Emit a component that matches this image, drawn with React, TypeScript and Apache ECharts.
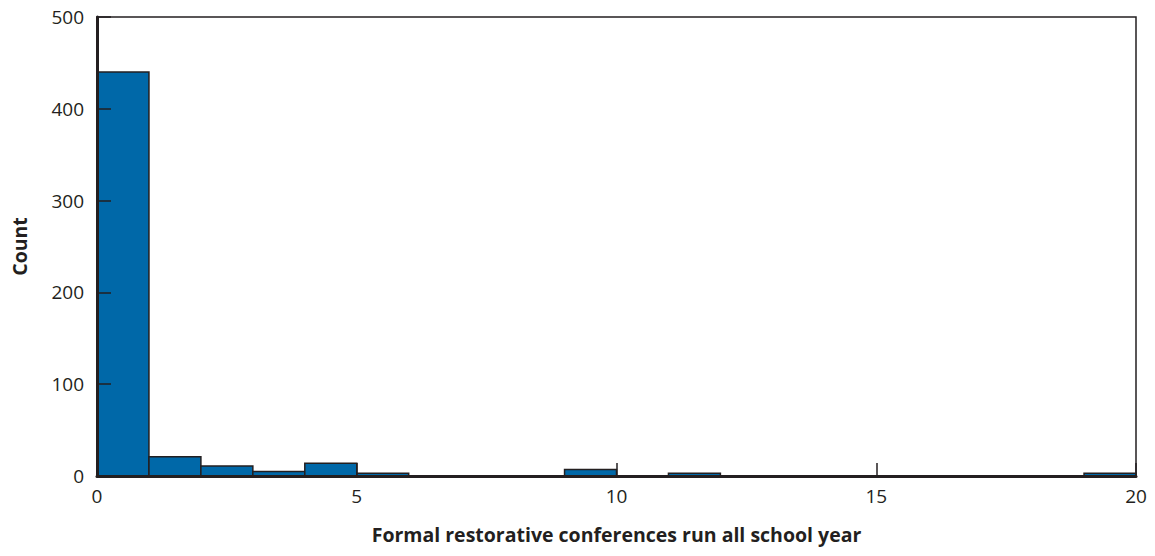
import React, { useEffect, useRef } from "react";
import * as echarts from "echarts";

const binStarts = [0, 1, 2, 3, 4, 5, 6, 7, 8, 9, 10, 11, 12, 13, 14, 15, 16, 17, 18, 19];
const counts = [440, 21, 11, 5, 14, 3, 0, 0, 0, 7, 0, 3, 0, 0, 0, 0, 0, 0, 0, 3];
const xTicks = [0, 5, 10, 15, 20];
const yTicks = [0, 100, 200, 300, 400, 500];
const xTitle = "Formal restorative conferences run all school year";
const yTitle = "Count";

const INK = "#231f20";
const BAR = "#0068a8";
const FONT = "'Open Sans', 'Noto Sans', sans-serif";

export default function App() {
  const ref = useRef<HTMLDivElement>(null);
  useEffect(() => {
    if (!ref.current) return;
    const chart = echarts.init(ref.current, null, { renderer: "svg" });
    const data = binStarts.map((s, i) => [s, s + 1, counts[i]]);
    chart.setOption({
      animation: false,
      grid: {
        left: 97,
        right: 19,
        top: 17,
        bottom: 80,
        show: true,
        borderColor: INK,
        borderWidth: 1.5,
        backgroundColor: "transparent",
        z: 0,
      },
      xAxis: {
        type: "value",
        min: xTicks[0],
        max: xTicks[xTicks.length - 1],
        interval: 5,
        z: 10,
        name: xTitle,
        nameLocation: "middle",
        nameGap: 48,
        nameTextStyle: { fontFamily: FONT, fontWeight: "bold", fontSize: 19.5, color: INK },
        axisLine: { show: true, lineStyle: { color: INK, width: 3 } },
        axisTick: { show: true, inside: true, length: 13, lineStyle: { color: INK, width: 1.5 } },
        axisLabel: { fontFamily: FONT, fontSize: 19, color: INK, margin: 10 },
        splitLine: { show: false },
      },
      yAxis: {
        type: "value",
        min: yTicks[0],
        max: yTicks[yTicks.length - 1],
        interval: 100,
        z: 10,
        name: yTitle,
        nameLocation: "middle",
        nameGap: 68,
        nameTextStyle: { fontFamily: FONT, fontWeight: "bold", fontSize: 19.5, color: INK },
        axisLine: { show: true, lineStyle: { color: INK, width: 3 } },
        axisTick: { show: true, inside: true, length: 14, lineStyle: { color: INK, width: 1.5 } },
        axisLabel: { fontFamily: FONT, fontSize: 19, color: INK, margin: 13 },
        splitLine: { show: false },
      },
      series: [
        {
          type: "custom",
          data,
          encode: { x: [0, 1], y: 2 },
          renderItem: (params: any, api: any) => {
            const p0 = api.coord([api.value(0), api.value(2)]);
            const p1 = api.coord([api.value(1), 0]);
            return {
              type: "rect",
              shape: { x: p0[0], y: p0[1], width: p1[0] - p0[0], height: p1[1] - p0[1] },
              style: { fill: BAR, stroke: INK, lineWidth: 1.5 },
            };
          },
          z: 1,
        },
      ],
    });
    return () => chart.dispose();
  }, []);
  return (
    <div
      ref={ref}
      style={{ position: "fixed", left: 0, top: 0, width: 1155, height: 556, background: "#fff" }}
    />
  );
}
